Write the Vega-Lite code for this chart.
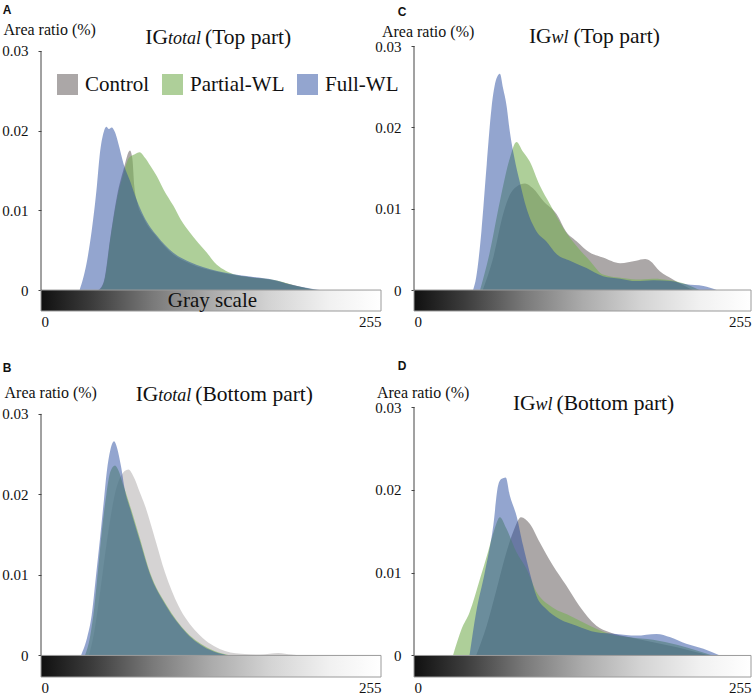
{
"$schema": "https://vega.github.io/schema/vega-lite/v6.json",
"background": "white",
"padding": {"left": 1, "top": 3, "right": 0, "bottom": 0},
"config": {"view": {"stroke": null}, "font": "Liberation Serif", "axis": {"labelFont": "Liberation Serif", "titleFont": "Liberation Serif"}, "legend": {"labelFont": "Liberation Serif"}, "text": {"font": "Liberation Serif"}},
"columns": 2,
"bounds": "flush",
"spacing": {"row": 96, "column": 33},
"datasets": {"hist": [
{"p":"A","s":"Control","x":43,"y":0},{"p":"A","s":"Control","x":47,"y":0.001},{"p":"A","s":"Control","x":52,"y":0.0066},{"p":"A","s":"Control","x":57,"y":0.0118},{"p":"A","s":"Control","x":62,"y":0.0152},{"p":"A","s":"Control","x":66.75,"y":0.0175},{"p":"A","s":"Control","x":68.5,"y":0.0165},{"p":"A","s":"Control","x":70,"y":0.013},{"p":"A","s":"Control","x":72,"y":0.0111},{"p":"A","s":"Control","x":77,"y":0.009},{"p":"A","s":"Control","x":87,"y":0.0066},{"p":"A","s":"Control","x":99,"y":0.0045},{"p":"A","s":"Control","x":112,"y":0.0033},{"p":"A","s":"Control","x":132,"y":0.0023},{"p":"A","s":"Control","x":157,"y":0.0016},{"p":"A","s":"Control","x":172,"y":0.0013},{"p":"A","s":"Control","x":190,"y":0.0006},{"p":"A","s":"Control","x":205,"y":0},
{"p":"A","s":"Partial-WL","x":44,"y":0},{"p":"A","s":"Partial-WL","x":48,"y":0.0015},{"p":"A","s":"Partial-WL","x":52,"y":0.0064},{"p":"A","s":"Partial-WL","x":57,"y":0.0114},{"p":"A","s":"Partial-WL","x":62,"y":0.0147},{"p":"A","s":"Partial-WL","x":66,"y":0.0166},{"p":"A","s":"Partial-WL","x":70,"y":0.017},{"p":"A","s":"Partial-WL","x":74,"y":0.0173},{"p":"A","s":"Partial-WL","x":78,"y":0.0166},{"p":"A","s":"Partial-WL","x":82,"y":0.0156},{"p":"A","s":"Partial-WL","x":86.8,"y":0.0143},{"p":"A","s":"Partial-WL","x":92,"y":0.0126},{"p":"A","s":"Partial-WL","x":99.2,"y":0.0106},{"p":"A","s":"Partial-WL","x":105,"y":0.0088},{"p":"A","s":"Partial-WL","x":111.8,"y":0.0072},{"p":"A","s":"Partial-WL","x":118,"y":0.0059},{"p":"A","s":"Partial-WL","x":124.3,"y":0.0047},{"p":"A","s":"Partial-WL","x":130,"y":0.0035},{"p":"A","s":"Partial-WL","x":136.7,"y":0.0026},{"p":"A","s":"Partial-WL","x":144,"y":0.002},{"p":"A","s":"Partial-WL","x":157,"y":0.0016},{"p":"A","s":"Partial-WL","x":177,"y":0.0012},{"p":"A","s":"Partial-WL","x":194,"y":0.0004},{"p":"A","s":"Partial-WL","x":207,"y":0},
{"p":"A","s":"Full-WL","x":29,"y":0},{"p":"A","s":"Full-WL","x":34,"y":0.0032},{"p":"A","s":"Full-WL","x":38,"y":0.0074},{"p":"A","s":"Full-WL","x":42,"y":0.0132},{"p":"A","s":"Full-WL","x":44,"y":0.0169},{"p":"A","s":"Full-WL","x":47,"y":0.0198},{"p":"A","s":"Full-WL","x":49,"y":0.0205},{"p":"A","s":"Full-WL","x":51,"y":0.0202},{"p":"A","s":"Full-WL","x":53,"y":0.0204},{"p":"A","s":"Full-WL","x":55.5,"y":0.0198},{"p":"A","s":"Full-WL","x":58,"y":0.0184},{"p":"A","s":"Full-WL","x":62,"y":0.0158},{"p":"A","s":"Full-WL","x":67,"y":0.0136},{"p":"A","s":"Full-WL","x":72,"y":0.0112},{"p":"A","s":"Full-WL","x":77,"y":0.0093},{"p":"A","s":"Full-WL","x":87,"y":0.0068},{"p":"A","s":"Full-WL","x":99,"y":0.0047},{"p":"A","s":"Full-WL","x":112,"y":0.0035},{"p":"A","s":"Full-WL","x":132,"y":0.0024},{"p":"A","s":"Full-WL","x":157,"y":0.0017},{"p":"A","s":"Full-WL","x":174,"y":0.0013},{"p":"A","s":"Full-WL","x":187,"y":0.0007},{"p":"A","s":"Full-WL","x":199,"y":0.0003},{"p":"A","s":"Full-WL","x":209,"y":0},
{"p":"B","s":"Control","x":36,"y":0},{"p":"B","s":"Control","x":40,"y":0.003},{"p":"B","s":"Control","x":44,"y":0.0075},{"p":"B","s":"Control","x":48,"y":0.0125},{"p":"B","s":"Control","x":52,"y":0.017},{"p":"B","s":"Control","x":56,"y":0.0205},{"p":"B","s":"Control","x":60,"y":0.0223},{"p":"B","s":"Control","x":65.5,"y":0.0231},{"p":"B","s":"Control","x":70,"y":0.022},{"p":"B","s":"Control","x":74,"y":0.0203},{"p":"B","s":"Control","x":78,"y":0.0186},{"p":"B","s":"Control","x":85.5,"y":0.0145},{"p":"B","s":"Control","x":93,"y":0.0103},{"p":"B","s":"Control","x":103,"y":0.0062},{"p":"B","s":"Control","x":116.75,"y":0.0029},{"p":"B","s":"Control","x":134,"y":0.0008},{"p":"B","s":"Control","x":150,"y":0.0002},{"p":"B","s":"Control","x":165,"y":0.0001},{"p":"B","s":"Control","x":178,"y":0.0003},{"p":"B","s":"Control","x":188,"y":0.0001},{"p":"B","s":"Control","x":195,"y":0},
{"p":"B","s":"Partial-WL","x":33,"y":0},{"p":"B","s":"Partial-WL","x":37,"y":0.0025},{"p":"B","s":"Partial-WL","x":40,"y":0.006},{"p":"B","s":"Partial-WL","x":43,"y":0.011},{"p":"B","s":"Partial-WL","x":46,"y":0.016},{"p":"B","s":"Partial-WL","x":49,"y":0.02},{"p":"B","s":"Partial-WL","x":52,"y":0.0228},{"p":"B","s":"Partial-WL","x":55.5,"y":0.0236},{"p":"B","s":"Partial-WL","x":58,"y":0.023},{"p":"B","s":"Partial-WL","x":62,"y":0.021},{"p":"B","s":"Partial-WL","x":66.75,"y":0.0186},{"p":"B","s":"Partial-WL","x":74.25,"y":0.0145},{"p":"B","s":"Partial-WL","x":81.75,"y":0.0103},{"p":"B","s":"Partial-WL","x":94.25,"y":0.0062},{"p":"B","s":"Partial-WL","x":109,"y":0.0029},{"p":"B","s":"Partial-WL","x":126.75,"y":0.0008},{"p":"B","s":"Partial-WL","x":142,"y":0},
{"p":"B","s":"Full-WL","x":30,"y":0},{"p":"B","s":"Full-WL","x":35,"y":0.0025},{"p":"B","s":"Full-WL","x":38,"y":0.005},{"p":"B","s":"Full-WL","x":41,"y":0.0095},{"p":"B","s":"Full-WL","x":44.25,"y":0.0145},{"p":"B","s":"Full-WL","x":47,"y":0.019},{"p":"B","s":"Full-WL","x":49.25,"y":0.0227},{"p":"B","s":"Full-WL","x":52,"y":0.0255},{"p":"B","s":"Full-WL","x":54.75,"y":0.0266},{"p":"B","s":"Full-WL","x":57,"y":0.0258},{"p":"B","s":"Full-WL","x":60,"y":0.0235},{"p":"B","s":"Full-WL","x":63,"y":0.0205},{"p":"B","s":"Full-WL","x":66.75,"y":0.0183},{"p":"B","s":"Full-WL","x":74,"y":0.0143},{"p":"B","s":"Full-WL","x":81.5,"y":0.0102},{"p":"B","s":"Full-WL","x":94,"y":0.0061},{"p":"B","s":"Full-WL","x":109,"y":0.0028},{"p":"B","s":"Full-WL","x":126.5,"y":0.0007},{"p":"B","s":"Full-WL","x":140,"y":0},
{"p":"C","s":"Control","x":52,"y":0},{"p":"C","s":"Control","x":60,"y":0.004},{"p":"C","s":"Control","x":67.4,"y":0.0093},{"p":"C","s":"Control","x":72.5,"y":0.0117},{"p":"C","s":"Control","x":77.5,"y":0.0127},{"p":"C","s":"Control","x":84,"y":0.0131},{"p":"C","s":"Control","x":90,"y":0.0125},{"p":"C","s":"Control","x":98,"y":0.0109},{"p":"C","s":"Control","x":108,"y":0.0093},{"p":"C","s":"Control","x":115,"y":0.0072},{"p":"C","s":"Control","x":123,"y":0.006},{"p":"C","s":"Control","x":133,"y":0.0046},{"p":"C","s":"Control","x":143,"y":0.004},{"p":"C","s":"Control","x":156,"y":0.0033},{"p":"C","s":"Control","x":168,"y":0.0036},{"p":"C","s":"Control","x":175,"y":0.0038},{"p":"C","s":"Control","x":178.5,"y":0.0036},{"p":"C","s":"Control","x":186,"y":0.0023},{"p":"C","s":"Control","x":196,"y":0.0013},{"p":"C","s":"Control","x":206,"y":0.0004},{"p":"C","s":"Control","x":211,"y":0},
{"p":"C","s":"Partial-WL","x":50,"y":0},{"p":"C","s":"Partial-WL","x":57,"y":0.0044},{"p":"C","s":"Partial-WL","x":65,"y":0.0109},{"p":"C","s":"Partial-WL","x":72.5,"y":0.0162},{"p":"C","s":"Partial-WL","x":77.5,"y":0.0182},{"p":"C","s":"Partial-WL","x":82.5,"y":0.017},{"p":"C","s":"Partial-WL","x":87.6,"y":0.0158},{"p":"C","s":"Partial-WL","x":95,"y":0.0129},{"p":"C","s":"Partial-WL","x":103,"y":0.0105},{"p":"C","s":"Partial-WL","x":113,"y":0.0076},{"p":"C","s":"Partial-WL","x":123,"y":0.0054},{"p":"C","s":"Partial-WL","x":133,"y":0.0036},{"p":"C","s":"Partial-WL","x":143,"y":0.0019},{"p":"C","s":"Partial-WL","x":156,"y":0.0015},{"p":"C","s":"Partial-WL","x":168,"y":0.0013},{"p":"C","s":"Partial-WL","x":181,"y":0.0014},{"p":"C","s":"Partial-WL","x":194,"y":0.0012},{"p":"C","s":"Partial-WL","x":206,"y":0.0007},{"p":"C","s":"Partial-WL","x":216,"y":0},
{"p":"C","s":"Full-WL","x":44.7,"y":0},{"p":"C","s":"Full-WL","x":47,"y":0.0015},{"p":"C","s":"Full-WL","x":51,"y":0.0072},{"p":"C","s":"Full-WL","x":55,"y":0.0154},{"p":"C","s":"Full-WL","x":58.6,"y":0.0223},{"p":"C","s":"Full-WL","x":62.4,"y":0.026},{"p":"C","s":"Full-WL","x":65,"y":0.0266},{"p":"C","s":"Full-WL","x":67.4,"y":0.0248},{"p":"C","s":"Full-WL","x":70,"y":0.0227},{"p":"C","s":"Full-WL","x":72.5,"y":0.0195},{"p":"C","s":"Full-WL","x":76,"y":0.0162},{"p":"C","s":"Full-WL","x":80,"y":0.0133},{"p":"C","s":"Full-WL","x":85,"y":0.0101},{"p":"C","s":"Full-WL","x":92.7,"y":0.0072},{"p":"C","s":"Full-WL","x":100,"y":0.006},{"p":"C","s":"Full-WL","x":108,"y":0.0044},{"p":"C","s":"Full-WL","x":118,"y":0.0036},{"p":"C","s":"Full-WL","x":130.5,"y":0.0027},{"p":"C","s":"Full-WL","x":143,"y":0.0017},{"p":"C","s":"Full-WL","x":156,"y":0.0014},{"p":"C","s":"Full-WL","x":168,"y":0.0011},{"p":"C","s":"Full-WL","x":181,"y":0.0012},{"p":"C","s":"Full-WL","x":194,"y":0.0011},{"p":"C","s":"Full-WL","x":206,"y":0.0007},{"p":"C","s":"Full-WL","x":219,"y":0.0005},{"p":"C","s":"Full-WL","x":229,"y":0},
{"p":"D","s":"Control","x":47,"y":0},{"p":"D","s":"Control","x":55,"y":0.0036},{"p":"D","s":"Control","x":62,"y":0.0077},{"p":"D","s":"Control","x":70,"y":0.0125},{"p":"D","s":"Control","x":75,"y":0.0149},{"p":"D","s":"Control","x":81,"y":0.0167},{"p":"D","s":"Control","x":87.6,"y":0.0159},{"p":"D","s":"Control","x":95,"y":0.0137},{"p":"D","s":"Control","x":105,"y":0.0109},{"p":"D","s":"Control","x":115,"y":0.0085},{"p":"D","s":"Control","x":125,"y":0.006},{"p":"D","s":"Control","x":138,"y":0.0036},{"p":"D","s":"Control","x":148,"y":0.0028},{"p":"D","s":"Control","x":163,"y":0.0022},{"p":"D","s":"Control","x":181,"y":0.0016},{"p":"D","s":"Control","x":199,"y":0.001},{"p":"D","s":"Control","x":214,"y":0.0004},{"p":"D","s":"Control","x":224,"y":0},
{"p":"D","s":"Partial-WL","x":29.5,"y":0},{"p":"D","s":"Partial-WL","x":36,"y":0.0032},{"p":"D","s":"Partial-WL","x":42,"y":0.0052},{"p":"D","s":"Partial-WL","x":50,"y":0.0093},{"p":"D","s":"Partial-WL","x":56,"y":0.0125},{"p":"D","s":"Partial-WL","x":61,"y":0.0153},{"p":"D","s":"Partial-WL","x":65,"y":0.0167},{"p":"D","s":"Partial-WL","x":70,"y":0.0153},{"p":"D","s":"Partial-WL","x":77.5,"y":0.0125},{"p":"D","s":"Partial-WL","x":85,"y":0.0105},{"p":"D","s":"Partial-WL","x":92.6,"y":0.0077},{"p":"D","s":"Partial-WL","x":103,"y":0.006},{"p":"D","s":"Partial-WL","x":118,"y":0.0048},{"p":"D","s":"Partial-WL","x":133,"y":0.0036},{"p":"D","s":"Partial-WL","x":148,"y":0.0026},{"p":"D","s":"Partial-WL","x":163,"y":0.0022},{"p":"D","s":"Partial-WL","x":181,"y":0.0019},{"p":"D","s":"Partial-WL","x":199,"y":0.0013},{"p":"D","s":"Partial-WL","x":214,"y":0.0006},{"p":"D","s":"Partial-WL","x":226,"y":0},
{"p":"D","s":"Full-WL","x":42,"y":0},{"p":"D","s":"Full-WL","x":47,"y":0.0052},{"p":"D","s":"Full-WL","x":53.5,"y":0.01},{"p":"D","s":"Full-WL","x":60,"y":0.0157},{"p":"D","s":"Full-WL","x":63.6,"y":0.0205},{"p":"D","s":"Full-WL","x":66,"y":0.0213},{"p":"D","s":"Full-WL","x":69.4,"y":0.0215},{"p":"D","s":"Full-WL","x":72.5,"y":0.0193},{"p":"D","s":"Full-WL","x":77.5,"y":0.0169},{"p":"D","s":"Full-WL","x":82.5,"y":0.0133},{"p":"D","s":"Full-WL","x":87.6,"y":0.01},{"p":"D","s":"Full-WL","x":92.6,"y":0.0072},{"p":"D","s":"Full-WL","x":100,"y":0.0056},{"p":"D","s":"Full-WL","x":110,"y":0.0044},{"p":"D","s":"Full-WL","x":123,"y":0.0036},{"p":"D","s":"Full-WL","x":138,"y":0.0028},{"p":"D","s":"Full-WL","x":153,"y":0.0026},{"p":"D","s":"Full-WL","x":168,"y":0.0024},{"p":"D","s":"Full-WL","x":183.5,"y":0.0026},{"p":"D","s":"Full-WL","x":194,"y":0.0022},{"p":"D","s":"Full-WL","x":206,"y":0.0014},{"p":"D","s":"Full-WL","x":219,"y":0.0008},{"p":"D","s":"Full-WL","x":231.5,"y":0}
]},
"concat": [
{
"width": 340, "height": 265,
"title": {"text": "A", "anchor": "start", "frame": "bounds", "font": "Liberation Sans", "fontSize": 12, "fontWeight": "bold", "color": "#111", "baseline": "alphabetic", "offset": -4.5, "dx": 1},
"layer": [
{"data": {"name": "hist"}, "transform": [{"filter": "datum.p == 'A'"}],
 "mark": {"type": "area", "interpolate": "monotone", "opacity": 1},
 "encoding": {
  "x": {"field": "x", "type": "quantitative", "scale": {"domain": [0, 255], "nice": false}, "axis": {"values": [0, 255], "labelFlush": true, "domain": false, "ticks": false, "grid": false, "labelFont": "Liberation Serif", "labelFontSize": 15, "labelColor": "#111", "labelPadding": 3, "title": null, "format": "d"}},
  "y": {"field": "y", "type": "quantitative", "stack": null, "scale": {"domain": [-0.00263, 0.030627], "nice": false, "zero": false}, "axis": {"values": [0, 0.01, 0.02, 0.03], "labelExpr": "datum.value == 0 ? '0' : format(datum.value, '.2f')", "domain": false, "grid": false, "tickSize": 3, "tickColor": "#444", "labelFont": "Liberation Serif", "labelFontSize": 15, "labelColor": "#111", "labelPadding": 10, "title": "Area ratio (%)", "titleFont": "Liberation Serif", "titleAngle": 0, "titleAlign": "left", "titleBaseline": "middle", "titleX": -38, "titleY": -17, "titleFontSize": 16, "titleFontWeight": "normal", "titleColor": "#111"}},
  "color": {"field": "s", "type": "nominal", "scale": {"domain": ["Control", "Partial-WL", "Full-WL"], "range": ["rgba(135,130,130,0.7)", "rgba(120,175,85,0.6)", "rgba(40,75,160,0.5)"]},
   "legend": {"orient": "none", "legendX": 16, "legendY": 28, "direction": "horizontal", "title": null, "symbolType": "square", "symbolSize": 441, "symbolStrokeWidth": 0, "symbolOpacity": 1, "labelFont": "Liberation Serif", "labelFontSize": 21, "labelColor": "#111", "labelOffset": 7, "columnPadding": 12, "labelLimit": 200}}
 }},
{"data": {"values": [{}]}, "mark": {"type": "rect", "fill": {"gradient": "linear", "x1": 0, "y1": 0, "x2": 1, "y2": 0, "stops": [{"offset": 0, "color": "#101010"}, {"offset": 0.15, "color": "#3c3c3c"}, {"offset": 0.33, "color": "#7a7a7a"}, {"offset": 0.5, "color": "#ababab"}, {"offset": 0.67, "color": "#d3d3d3"}, {"offset": 0.85, "color": "#f1f1f1"}, {"offset": 1, "color": "#ffffff"}]}, "stroke": "#9a9a9a", "strokeWidth": 1},
 "encoding": {"x": {"datum": 0}, "x2": {"datum": 255}, "y": {"datum": 0}, "y2": {"datum": -0.00263}}},
{"data": {"values": [{}]}, "mark": {"type": "rule", "color": "#444", "strokeWidth": 1}, "encoding": {"x": {"datum": 0}, "y": {"datum": 0}, "y2": {"datum": 0.03}}},
{"data": {"values": [{}]}, "mark": {"type": "text", "text": "Gray scale", "font": "Liberation Serif", "align": "center", "baseline": "alphabetic", "fontSize": 21, "color": "#111", "dy": 17}, "encoding": {"x": {"datum": 128.6}, "y": {"datum": 0}}},
{"data": {"values": [{}]}, "mark": {"type": "text", "text": "IG", "font": "Liberation Serif", "align": "right", "baseline": "alphabetic", "fontSize": 21.5, "color": "#111", "dy": -7.4}, "encoding": {"x": {"datum": 95.25}, "y": {"datum": 0.03}}},
{"data": {"values": [{}]}, "mark": {"type": "text", "text": "total", "font": "Liberation Serif", "align": "left", "baseline": "alphabetic", "fontSize": 18, "fontStyle": "italic", "color": "#111", "dy": -7.4}, "encoding": {"x": {"datum": 95.25}, "y": {"datum": 0.03}}},
{"data": {"values": [{}]}, "mark": {"type": "text", "text": "(Top part)", "font": "Liberation Serif", "align": "left", "baseline": "alphabetic", "fontSize": 21.5, "color": "#111", "dy": -7.4, "dx": 37}, "encoding": {"x": {"datum": 95.25}, "y": {"datum": 0.03}}}
]
},
{
"width": 337, "height": 265,
"title": {"text": "C", "anchor": "start", "frame": "bounds", "font": "Liberation Sans", "fontSize": 12, "fontWeight": "bold", "color": "#111", "baseline": "alphabetic", "offset": -4.5, "dx": 23},
"layer": [
{"data": {"name": "hist"}, "transform": [{"filter": "datum.p == 'C'"}],
 "mark": {"type": "area", "interpolate": "monotone", "opacity": 1},
 "encoding": {
  "x": {"field": "x", "type": "quantitative", "scale": {"domain": [0, 255], "nice": false}, "axis": {"values": [0, 255], "labelFlush": true, "domain": false, "ticks": false, "grid": false, "labelFont": "Liberation Serif", "labelFontSize": 15, "labelColor": "#111", "labelPadding": 3, "title": null, "format": "d"}},
  "y": {"field": "y", "type": "quantitative", "stack": null, "scale": {"domain": [-0.00258, 0.03], "nice": false, "zero": false}, "axis": {"values": [0, 0.01, 0.02, 0.03], "labelExpr": "datum.value == 0 ? '0' : format(datum.value, '.2f')", "domain": false, "grid": false, "tickSize": 3, "tickColor": "#444", "labelFont": "Liberation Serif", "labelFontSize": 15, "labelColor": "#111", "labelPadding": 10, "title": "Area ratio (%)", "titleFont": "Liberation Serif", "titleAngle": 0, "titleAlign": "left", "titleBaseline": "middle", "titleX": -32.6, "titleY": -15, "titleFontSize": 16, "titleFontWeight": "normal", "titleColor": "#111"}},
  "color": {"field": "s", "type": "nominal", "scale": {"domain": ["Control", "Partial-WL", "Full-WL"], "range": ["rgba(135,130,130,0.7)", "rgba(120,175,85,0.6)", "rgba(40,75,160,0.5)"]},
   "legend": {"orient": "none", "legendX": 16, "legendY": 28, "direction": "horizontal", "title": null, "symbolType": "square", "symbolSize": 441, "symbolStrokeWidth": 0, "symbolOpacity": 1, "labelFont": "Liberation Serif", "labelFontSize": 21, "labelColor": "#111", "labelOffset": 7, "columnPadding": 12, "labelLimit": 200}}
 }},
{"data": {"values": [{}]}, "mark": {"type": "rect", "fill": {"gradient": "linear", "x1": 0, "y1": 0, "x2": 1, "y2": 0, "stops": [{"offset": 0, "color": "#101010"}, {"offset": 0.15, "color": "#3c3c3c"}, {"offset": 0.33, "color": "#7a7a7a"}, {"offset": 0.5, "color": "#ababab"}, {"offset": 0.67, "color": "#d3d3d3"}, {"offset": 0.85, "color": "#f1f1f1"}, {"offset": 1, "color": "#ffffff"}]}, "stroke": "#9a9a9a", "strokeWidth": 1},
 "encoding": {"x": {"datum": 0}, "x2": {"datum": 255}, "y": {"datum": 0}, "y2": {"datum": -0.00258}}},
{"data": {"values": [{}]}, "mark": {"type": "rule", "color": "#444", "strokeWidth": 1}, "encoding": {"x": {"datum": 0}, "y": {"datum": 0}, "y2": {"datum": 0.03}}},
{"data": {"values": [{}]}, "mark": {"type": "text", "text": "IG", "font": "Liberation Serif", "align": "right", "baseline": "alphabetic", "fontSize": 21.5, "color": "#111", "dy": -3.4}, "encoding": {"x": {"datum": 104.1}, "y": {"datum": 0.03}}},
{"data": {"values": [{}]}, "mark": {"type": "text", "text": "wl", "font": "Liberation Serif", "align": "left", "baseline": "alphabetic", "fontSize": 18, "fontStyle": "italic", "color": "#111", "dy": -3.4}, "encoding": {"x": {"datum": 104.1}, "y": {"datum": 0.03}}},
{"data": {"values": [{}]}, "mark": {"type": "text", "text": "(Top part)", "font": "Liberation Serif", "align": "left", "baseline": "alphabetic", "fontSize": 21.5, "color": "#111", "dy": -3.4, "dx": 22}, "encoding": {"x": {"datum": 104.1}, "y": {"datum": 0.03}}}
]
},
{
"width": 340, "height": 270,
"title": {"text": "B", "anchor": "start", "frame": "bounds", "font": "Liberation Sans", "fontSize": 12, "fontWeight": "bold", "color": "#111", "baseline": "alphabetic", "offset": 0.3, "dx": 1},
"layer": [
{"data": {"name": "hist"}, "transform": [{"filter": "datum.p == 'B'"}],
 "mark": {"type": "area", "interpolate": "monotone", "opacity": 1},
 "encoding": {
  "x": {"field": "x", "type": "quantitative", "scale": {"domain": [0, 255], "nice": false}, "axis": {"values": [0, 255], "labelFlush": true, "domain": false, "ticks": false, "grid": false, "labelFont": "Liberation Serif", "labelFontSize": 15, "labelColor": "#111", "labelPadding": 3, "title": null, "format": "d"}},
  "y": {"field": "y", "type": "quantitative", "stack": null, "scale": {"domain": [-0.00268, 0.030856], "nice": false, "zero": false}, "axis": {"values": [0, 0.01, 0.02, 0.03], "labelExpr": "datum.value == 0 ? '0' : format(datum.value, '.2f')", "domain": false, "grid": false, "tickSize": 3, "tickColor": "#444", "labelFont": "Liberation Serif", "labelFontSize": 15, "labelColor": "#111", "labelPadding": 10, "title": "Area ratio (%)", "titleFont": "Liberation Serif", "titleAngle": 0, "titleAlign": "left", "titleBaseline": "middle", "titleX": -37, "titleY": -15, "titleFontSize": 16, "titleFontWeight": "normal", "titleColor": "#111"}},
  "opacity": {"condition": {"test": "datum.s == 'Control'", "value": 0.5}, "value": 1},
  "color": {"field": "s", "type": "nominal", "scale": {"domain": ["Control", "Partial-WL", "Full-WL"], "range": ["rgba(135,130,130,0.7)", "rgba(120,175,85,0.6)", "rgba(40,75,160,0.5)"]},
   "legend": {"orient": "none", "legendX": 16, "legendY": 28, "direction": "horizontal", "title": null, "symbolType": "square", "symbolSize": 441, "symbolStrokeWidth": 0, "symbolOpacity": 1, "labelFont": "Liberation Serif", "labelFontSize": 21, "labelColor": "#111", "labelOffset": 7, "columnPadding": 12, "labelLimit": 200}}
 }},
{"data": {"values": [{}]}, "mark": {"type": "rect", "fill": {"gradient": "linear", "x1": 0, "y1": 0, "x2": 1, "y2": 0, "stops": [{"offset": 0, "color": "#101010"}, {"offset": 0.15, "color": "#3c3c3c"}, {"offset": 0.33, "color": "#7a7a7a"}, {"offset": 0.5, "color": "#ababab"}, {"offset": 0.67, "color": "#d3d3d3"}, {"offset": 0.85, "color": "#f1f1f1"}, {"offset": 1, "color": "#ffffff"}]}, "stroke": "#9a9a9a", "strokeWidth": 1},
 "encoding": {"x": {"datum": 0}, "x2": {"datum": 255}, "y": {"datum": 0}, "y2": {"datum": -0.00268}}},
{"data": {"values": [{}]}, "mark": {"type": "rule", "color": "#444", "strokeWidth": 1}, "encoding": {"x": {"datum": 0}, "y": {"datum": 0}, "y2": {"datum": 0.03}}},
{"data": {"values": [{}]}, "mark": {"type": "text", "text": "IG", "font": "Liberation Serif", "align": "right", "baseline": "alphabetic", "fontSize": 21.5, "color": "#111", "dy": -12.7}, "encoding": {"x": {"datum": 88}, "y": {"datum": 0.03}}},
{"data": {"values": [{}]}, "mark": {"type": "text", "text": "total", "font": "Liberation Serif", "align": "left", "baseline": "alphabetic", "fontSize": 18, "fontStyle": "italic", "color": "#111", "dy": -12.7}, "encoding": {"x": {"datum": 88}, "y": {"datum": 0.03}}},
{"data": {"values": [{}]}, "mark": {"type": "text", "text": "(Bottom part)", "font": "Liberation Serif", "align": "left", "baseline": "alphabetic", "fontSize": 21.5, "color": "#111", "dy": -12.7, "dx": 37}, "encoding": {"x": {"datum": 88}, "y": {"datum": 0.03}}}
]
},
{
"width": 337, "height": 270,
"title": {"text": "D", "anchor": "start", "frame": "bounds", "font": "Liberation Sans", "fontSize": 12, "fontWeight": "bold", "color": "#111", "baseline": "alphabetic", "offset": 2.3, "dx": 23},
"layer": [
{"data": {"name": "hist"}, "transform": [{"filter": "datum.p == 'D'"}],
 "mark": {"type": "area", "interpolate": "monotone", "opacity": 1},
 "encoding": {
  "x": {"field": "x", "type": "quantitative", "scale": {"domain": [0, 255], "nice": false}, "axis": {"values": [0, 255], "labelFlush": true, "domain": false, "ticks": false, "grid": false, "labelFont": "Liberation Serif", "labelFontSize": 15, "labelColor": "#111", "labelPadding": 3, "title": null, "format": "d"}},
  "y": {"field": "y", "type": "quantitative", "stack": null, "scale": {"domain": [-0.0026, 0.03], "nice": false, "zero": false}, "axis": {"values": [0, 0.01, 0.02, 0.03], "labelExpr": "datum.value == 0 ? '0' : format(datum.value, '.2f')", "domain": false, "grid": false, "tickSize": 3, "tickColor": "#444", "labelFont": "Liberation Serif", "labelFontSize": 15, "labelColor": "#111", "labelPadding": 10, "title": "Area ratio (%)", "titleFont": "Liberation Serif", "titleAngle": 0, "titleAlign": "left", "titleBaseline": "middle", "titleX": -37.6, "titleY": -15, "titleFontSize": 16, "titleFontWeight": "normal", "titleColor": "#111"}},
  "color": {"field": "s", "type": "nominal", "scale": {"domain": ["Control", "Partial-WL", "Full-WL"], "range": ["rgba(135,130,130,0.7)", "rgba(120,175,85,0.6)", "rgba(40,75,160,0.5)"]},
   "legend": {"orient": "none", "legendX": 16, "legendY": 28, "direction": "horizontal", "title": null, "symbolType": "square", "symbolSize": 441, "symbolStrokeWidth": 0, "symbolOpacity": 1, "labelFont": "Liberation Serif", "labelFontSize": 21, "labelColor": "#111", "labelOffset": 7, "columnPadding": 12, "labelLimit": 200}}
 }},
{"data": {"values": [{}]}, "mark": {"type": "rect", "fill": {"gradient": "linear", "x1": 0, "y1": 0, "x2": 1, "y2": 0, "stops": [{"offset": 0, "color": "#101010"}, {"offset": 0.15, "color": "#3c3c3c"}, {"offset": 0.33, "color": "#7a7a7a"}, {"offset": 0.5, "color": "#ababab"}, {"offset": 0.67, "color": "#d3d3d3"}, {"offset": 0.85, "color": "#f1f1f1"}, {"offset": 1, "color": "#ffffff"}]}, "stroke": "#9a9a9a", "strokeWidth": 1},
 "encoding": {"x": {"datum": 0}, "x2": {"datum": 255}, "y": {"datum": 0}, "y2": {"datum": -0.0026}}},
{"data": {"values": [{}]}, "mark": {"type": "rule", "color": "#444", "strokeWidth": 1}, "encoding": {"x": {"datum": 0}, "y": {"datum": 0}, "y2": {"datum": 0.03}}},
{"data": {"values": [{}]}, "mark": {"type": "text", "text": "IG", "font": "Liberation Serif", "align": "right", "baseline": "alphabetic", "fontSize": 21.5, "color": "#111", "dy": 3}, "encoding": {"x": {"datum": 92}, "y": {"datum": 0.03}}},
{"data": {"values": [{}]}, "mark": {"type": "text", "text": "wl", "font": "Liberation Serif", "align": "left", "baseline": "alphabetic", "fontSize": 18, "fontStyle": "italic", "color": "#111", "dy": 3}, "encoding": {"x": {"datum": 92}, "y": {"datum": 0.03}}},
{"data": {"values": [{}]}, "mark": {"type": "text", "text": "(Bottom part)", "font": "Liberation Serif", "align": "left", "baseline": "alphabetic", "fontSize": 21.5, "color": "#111", "dy": 3, "dx": 21}, "encoding": {"x": {"datum": 92}, "y": {"datum": 0.03}}}
]
}
]
}
